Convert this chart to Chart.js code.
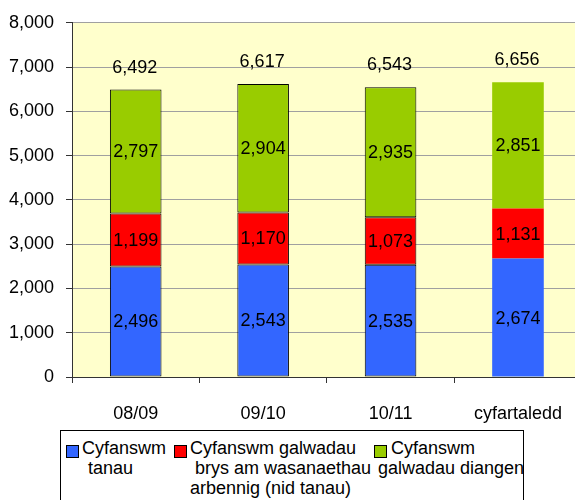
<!DOCTYPE html>
<html>
<head>
<meta charset="utf-8">
<script src="https://cdn.jsdelivr.net/npm/chart.js@4.4.0/dist/chart.umd.min.js"></script>
<style>
html,body{margin:0;padding:0;overflow:hidden;background:#fff;width:575px;height:500px;}
#wrap{position:relative;width:575px;height:500px;overflow:hidden;}
#c{position:absolute;left:0;top:0;}
#legbox{position:absolute;left:60px;top:430px;width:464px;height:90px;border:1px solid #000;box-sizing:border-box;}
.sw{position:absolute;width:13px;height:13px;border:1px solid #000;box-sizing:border-box;}
.ln{position:absolute;white-space:pre;line-height:20px;font:18px "Liberation Sans",Arial,sans-serif;color:#000;}
</style>
</head>
<body>
<div id="wrap">
<canvas id="c" width="582" height="428"></canvas>
<div id="legbox"></div>
<div id="legend"></div>
</div>
<script>
const categories = ['08/09', '09/10', '10/11', 'cyfartaledd'];
const tanau = [2496, 2543, 2535, 2674];
const arbennig = [1199, 1170, 1073, 1131];
const diangen = [2797, 2904, 2935, 2851];
const totals = [6492, 6617, 6543, 6656];
const yTicks = [0, 1000, 2000, 3000, 4000, 5000, 6000, 7000, 8000];
const seriesNames = ['Cyfanswm tanau', 'Cyfanswm galwadau brys am wasanaethau arbennig (nid tanau)', 'Cyfanswm galwadau diangen'];
const legendLines = [
  ['Cyfanswm', 'tanau'],
  ['Cyfanswm galwadau', 'brys am wasanaethau', 'arbennig (nid tanau)'],
  ['Cyfanswm', 'galwadau diangen']
];
const colors = ['#3366FF', '#FF0000', '#99CC00'];

const FONT = '"Liberation Sans", Arial, sans-serif';
const fmt = v => Number(v).toLocaleString('en-US');

// HTML legend
(function(){
  const lg = document.getElementById('legend');
  const sq = [66, 174, 374];
  const lx = [[82, 88], [190, 195, 190], [391, 378]];
  legendLines.forEach((lines, i) => {
    const s = document.createElement('div');
    s.className = 'sw'; s.style.left = sq[i] + 'px'; s.style.top = '445px'; s.style.background = colors[i];
    s.title = seriesNames[i];
    lg.appendChild(s);
    lines.forEach((t, j) => {
      const d = document.createElement('div');
      d.className = 'ln'; d.textContent = t;
      d.style.left = lx[i][j] + 'px'; d.style.top = (438 + 20 * j) + 'px';
      lg.appendChild(d);
    });
  });
})();

const bgPlugin = {
  id: 'bg',
  beforeDraw(chart) {
    const a = chart.chartArea, ctx = chart.ctx;
    ctx.save(); ctx.fillStyle = '#FFFFCC';
    ctx.fillRect(a.left, a.top, a.right - a.left, a.bottom - a.top);
    ctx.restore();
  }
};

const labelPlugin = {
  id: 'vals',
  afterDatasetsDraw(chart) {
    const ctx = chart.ctx;
    ctx.save();
    ctx.font = '18px ' + FONT; ctx.fillStyle = '#000';
    ctx.textAlign = 'center'; ctx.textBaseline = 'middle';
    chart.data.datasets.forEach((ds, di) => {
      const meta = chart.getDatasetMeta(di);
      meta.data.forEach((bar, i) => {
        const p = bar.getProps(['x', 'y', 'base'], true);
        ctx.fillText(fmt(ds.data[i]), p.x, (p.y + p.base) / 2 + 1);
      });
    });
    const ys = chart.scales.y, xs = chart.scales.x;
    totals.forEach((t, i) => {
      ctx.fillText(fmt(t), xs.getPixelForValue(i) - 1, ys.getPixelForValue(t) - 22);
    });
    ctx.restore();
  }
};

const borderCols = ['#000', '#000', '#000', 'rgba(0,0,0,0)'];
const borderW = [1, 1, 1, 0];
const mk = (label, data, color) => ({
  label, data, backgroundColor: color, borderColor: borderCols, borderWidth: borderW,
  borderSkipped: false, categoryPercentage: 1, barPercentage: 0.405
});

new Chart(document.getElementById('c'), {
  type: 'bar',
  data: {
    labels: categories,
    datasets: [
      mk(seriesNames[0], tanau, colors[0]),
      mk(seriesNames[1], arbennig, colors[1]),
      mk(seriesNames[2], diangen, colors[2])
    ]
  },
  options: {
    responsive: false, animation: false, devicePixelRatio: 1,
    layout: { padding: { top: 6, left: 0, right: 0, bottom: 0 } },
    plugins: { legend: { display: false }, tooltip: { enabled: false } },
    scales: {
      x: {
        stacked: true, offset: true,
        grid: { offset: true, drawOnChartArea: false, drawTicks: true, tickLength: 6, tickColor: '#333', color: '#333' },
        border: { color: '#333', width: 1 },
        ticks: { color: '#000', font: { size: 18, family: FONT }, padding: 20, maxRotation: 0, autoSkip: false },
        afterFit(s) { s.height = 51; }
      },
      y: {
        stacked: true, min: 0, max: 8000,
        afterBuildTicks(s) { s.ticks = yTicks.map(v => ({ value: v })); },
        grid: { color: '#A0A0A0', tickLength: 6, tickColor: '#333' },
        border: { color: '#333', width: 1 },
        ticks: { color: '#000', font: { size: 18, family: FONT }, padding: 12, callback: v => fmt(v) },
        afterFit(s) { s.width = 72; }
      }
    }
  },
  plugins: [bgPlugin, labelPlugin]
});
</script>
</body>
</html>
